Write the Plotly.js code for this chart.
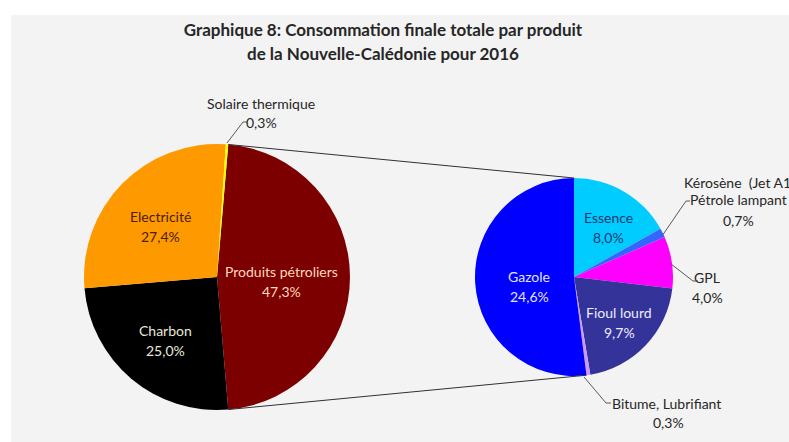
<!DOCTYPE html>
<html>
<head>
<meta charset="utf-8">
<script src="https://cdn.plot.ly/plotly-3.0.1.min.js"></script>
<style>html,body{margin:0;padding:0;background:#fff;}#chart{width:789px;height:442px;}</style>
</head>
<body>
<div id="chart"></div>
<script>
// ---- Data ----
const mainLabels = ["Produits pétroliers", "Charbon", "Electricité", "Solaire thermique"];
const mainValues = [47.3, 25.0, 27.4, 0.3];
const mainColors = ["#7d0000", "#000000", "#ff9900", "#ffff00"];

const petroLabels = ["Essence", "Kérosène  (Jet A1<br>Pétrole lampant", "GPL", "Fioul lourd", "Bitume, Lubrifiant", "Gazole"];
const petroValues = [8.0, 0.7, 4.0, 9.7, 0.3, 24.6];
const petroColors = ["#00ccff", "#3366ff", "#ff00ff", "#333399", "#cc99ff", "#0000ff"];

const titleLines = ["Graphique 8: Consommation finale totale par produit", "de la Nouvelle-Calédonie pour 2016"];

// ---- Layout helpers ----
const W = 789, H = 442;
const px = x => x / W;
const py = y => 1 - y / H;
const fmt = v => v.toFixed(1).replace('.', ',') + '%';

const L = {cx: 217, cy: 277, r: 133};
const R = {cx: 574, cy: 277, r: 99};

const mainTotal = mainValues.reduce((a, b) => a + b, 0);
const petroTotal = petroValues.reduce((a, b) => a + b, 0);
const mainRotation = 90 - (mainValues[0] / mainTotal) * 180;

const FONT = "Lato, 'Open Sans', sans-serif";

const traces = [
  {
    type: 'pie', labels: mainLabels, values: mainValues, sort: false, direction: 'clockwise',
    rotation: mainRotation, marker: {colors: mainColors, line: {width: 0}},
    textinfo: 'none', hoverinfo: 'label+percent', showlegend: false,
    domain: {x: [px(L.cx - L.r), px(L.cx + L.r)], y: [py(L.cy + L.r), py(L.cy - L.r)]}
  },
  {
    type: 'pie', labels: petroLabels, values: petroValues, sort: false, direction: 'clockwise',
    rotation: 0, marker: {colors: petroColors, line: {width: 0}},
    textinfo: 'none', hoverinfo: 'label+value', showlegend: false,
    domain: {x: [px(R.cx - R.r), px(R.cx + R.r)], y: [py(R.cy + R.r), py(R.cy - R.r)]}
  }
];

const annotations = [];
function addLabel(lines, x, y0, color, spacing) {
  spacing = spacing || 20;
  lines.forEach((t, i) => {
    annotations.push({
      text: t, x: px(x), y: py(y0 + i * spacing), xref: 'paper', yref: 'paper',
      xanchor: 'center', yanchor: 'middle', showarrow: false,
      font: {family: FONT, size: 14, color: color}
    });
  });
}

// Main pie labels
addLabel([mainLabels[0], fmt(mainValues[0])], 281, 271, '#ffd9b8');
addLabel([mainLabels[1], fmt(mainValues[1])], 165, 330, '#e8e8d6');
addLabel([mainLabels[2], fmt(mainValues[2])], 160, 216, '#4a200a');
addLabel([mainLabels[3]], 261, 103, '#262626');
addLabel([fmt(mainValues[3])], 261, 122, '#262626');

// Second pie labels
addLabel([petroLabels[0], fmt(petroValues[0])], 608, 217, '#1f3a6e');
addLabel([petroLabels[5], fmt(petroValues[5])], 529, 276, '#e4e4fa');
addLabel([petroLabels[3], fmt(petroValues[3])], 619, 312, '#ececfa');
addLabel([petroLabels[2], fmt(petroValues[2])], 707, 277, '#262626');
addLabel([petroLabels[4]], 666, 403, '#262626');
addLabel([fmt(petroValues[4])], 668, 422, '#262626');
// Kérosène label (line 1 runs off the right edge, as in the reference)
annotations.push({
  text: petroLabels[1].split('<br>')[0], x: px(682), y: py(182), xref: 'paper', yref: 'paper',
  xanchor: 'left', yanchor: 'middle', showarrow: false, font: {family: FONT, size: 14, color: '#262626'}
});
addLabel([petroLabels[1].split('<br>')[1]], 738, 200, '#262626');
addLabel([fmt(petroValues[1])], 738, 220, '#262626');

// Title line 2
annotations.push({
  text: '<b>' + titleLines[1] + '</b>', x: px(383), y: py(53), xref: 'paper', yref: 'paper',
  xanchor: 'center', yanchor: 'middle', showarrow: false,
  font: {family: FONT, size: 17, color: '#262626'}
});

// ---- Shapes: background, connectors, leader lines ----
const deg = Math.PI / 180;
const a0 = mainRotation * deg;
const a1 = (mainRotation + mainValues[0] / mainTotal * 360) * deg;
const bBound = (1 - petroValues[5] / petroTotal) * 360 * deg;

function seg(x0, y0, x1, y1, color, w) {
  return {type: 'line', xref: 'paper', yref: 'paper', x0: px(x0), y0: py(y0), x1: px(x1), y1: py(y1),
          line: {color: color || '#404040', width: w || 1}};
}

const shapes = [
  {type: 'rect', xref: 'paper', yref: 'paper', x0: px(11), x1: 1, y0: 0, y1: py(15),
   fillcolor: '#f3f3f3', line: {width: 0}, layer: 'below'},
  // connectors
  seg(L.cx + L.r * Math.sin(a0), L.cy - L.r * Math.cos(a0), R.cx, R.cy - R.r, '#303030', 1),
  seg(L.cx + L.r * Math.sin(a1), L.cy - L.r * Math.cos(a1),
      R.cx + R.r * Math.sin(bBound), R.cy - R.r * Math.cos(bBound), '#303030', 1),
  // leaders
  seg(227, 143, 243, 122, '#595959'), seg(243, 122, 247, 122, '#595959'),
  seg(662, 236, 686, 201, '#595959'), seg(686, 201, 690, 201, '#595959'),
  seg(671, 264, 693, 281, '#595959'), seg(693, 281, 698, 281, '#595959'),
  seg(584, 377, 606, 403, '#595959'), seg(606, 403, 611, 403, '#595959')
];

const layout = {
  width: W, height: H, autosize: false,
  margin: {l: 0, r: 0, t: 0, b: 0},
  paper_bgcolor: '#ffffff', plot_bgcolor: 'rgba(0,0,0,0)',
  title: {text: '<b>' + titleLines[0] + '</b>', x: px(383), xanchor: 'center', xref: 'paper',
          y: py(30), yanchor: 'middle', yref: 'container',
          font: {family: FONT, size: 17, color: '#262626'}},
  showlegend: false,
  annotations: annotations,
  shapes: shapes
};

Plotly.newPlot('chart', traces, layout, {displayModeBar: false, staticPlot: true});
</script>
</body>
</html>
